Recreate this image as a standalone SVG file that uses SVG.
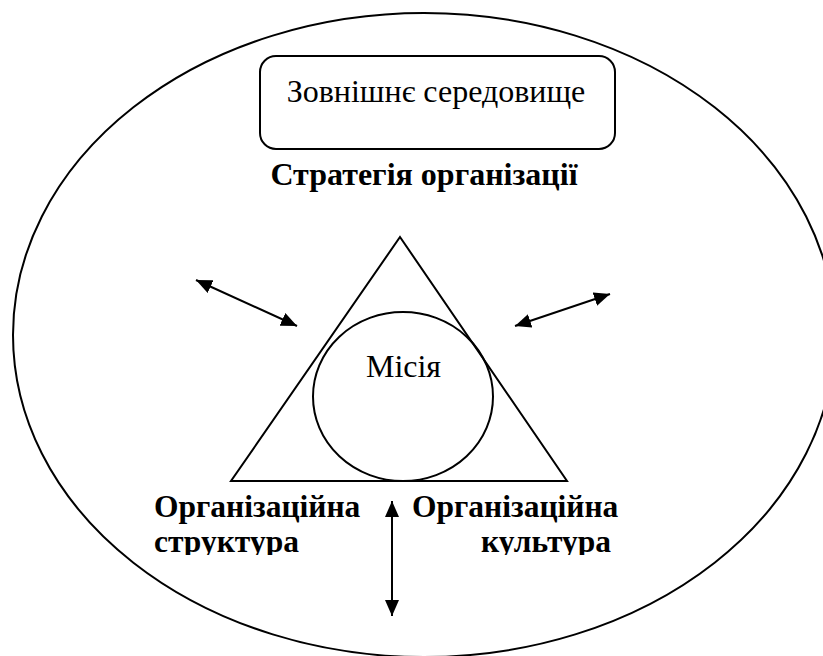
<svg xmlns="http://www.w3.org/2000/svg" width="823" height="656" viewBox="0 0 823 656">
  <style>
    .shape { fill: none; stroke: #000; stroke-width: 2; }
    .reg { font-family: "Liberation Serif", "Times New Roman", serif; font-size: 32px; fill: #000; }
    .bold { font-family: "Liberation Serif", "Times New Roman", serif; font-size: 32px; font-weight: bold; fill: #000; }
    .label { font-family: "Liberation Serif", "Times New Roman", serif; font-size: 31.5px; font-weight: bold; fill: #000; }
    .conn { stroke: #000; stroke-width: 2; fill: none; }
  </style>
  <defs>
    <marker id="arrow" viewBox="0 0 16 14" refX="16" refY="7" markerWidth="16" markerHeight="14" markerUnits="userSpaceOnUse" orient="auto-start-reverse">
      <path d="M0,0 L16,7 L0,14 Z" fill="#000"/>
    </marker>
    <clipPath id="labelClip">
      <rect x="0" y="0" width="823" height="555"/>
    </clipPath>
  </defs>
  <rect width="823" height="656" fill="#fff"/>

  <g id="environment-ellipse">
    <ellipse class="shape" cx="424" cy="335" rx="411" ry="322"/>
  </g>

  <g id="external-environment">
    <rect class="shape" x="260" y="56" width="355" height="93" rx="16" ry="16"/>
    <text class="reg" x="436" y="102" text-anchor="middle">Зовнішнє середовище</text>
  </g>

  <g id="strategy">
    <text class="bold" x="424" y="185" text-anchor="middle">Стратегія організації</text>
  </g>

  <g id="triangle">
    <polygon class="shape" points="400,237 567,481 231,481"/>
  </g>

  <g id="mission">
    <ellipse class="shape" cx="403" cy="396.5" rx="90" ry="84.5"/>
    <text class="reg" x="403.5" y="377" text-anchor="middle">Місія</text>
  </g>

  <g id="org-structure" clip-path="url(#labelClip)">
    <text class="label" x="154" y="517">Організаційна</text>
    <text class="label" x="154" y="552">структура</text>
  </g>

  <g id="org-culture" clip-path="url(#labelClip)">
    <text class="label" x="412" y="517">Організаційна</text>
    <text class="label" x="611" y="552" text-anchor="end">культура</text>
  </g>

  <g id="connectors">
    <line class="conn" x1="196" y1="280" x2="297" y2="326" marker-start="url(#arrow)" marker-end="url(#arrow)"/>
    <line class="conn" x1="515" y1="326" x2="610" y2="294" marker-start="url(#arrow)" marker-end="url(#arrow)"/>
    <line class="conn" x1="392" y1="501" x2="392" y2="616" marker-start="url(#arrow)" marker-end="url(#arrow)"/>
  </g>
</svg>
